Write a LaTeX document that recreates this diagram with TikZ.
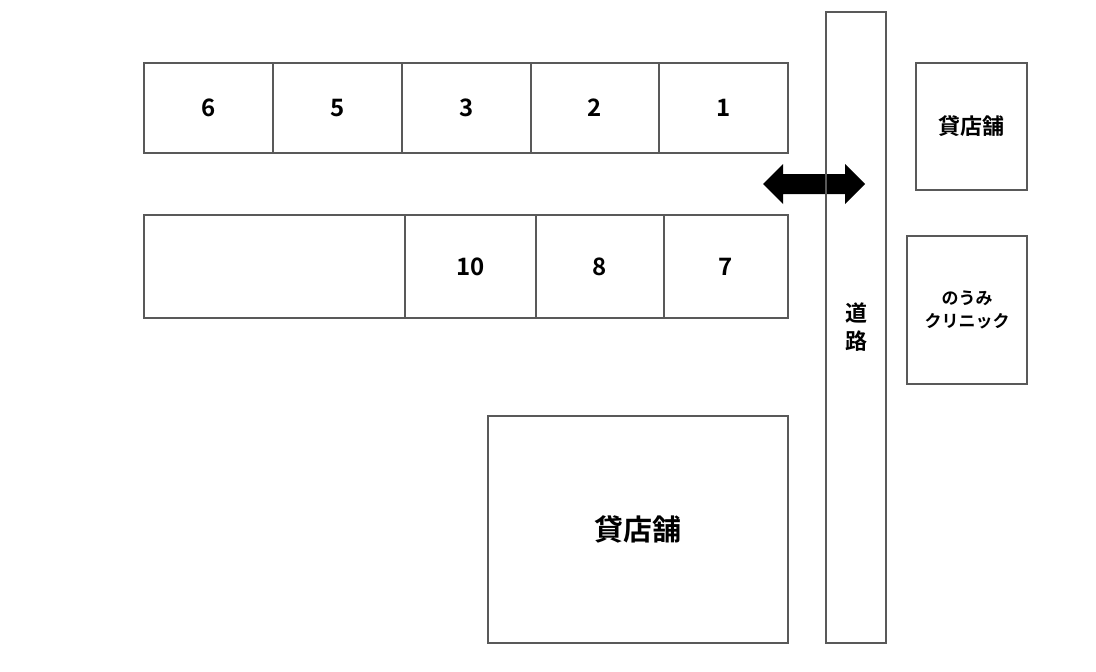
\documentclass[tikz,border=0pt]{standalone}
\usepackage{fontspec}
\setmainfont{Noto Sans CJK JP}[BoldFont={Noto Sans CJK JP Bold}]
\tikzset{
  lot/.style={draw=black!65, line width=0.75pt},
  lbl/.style={font=\bfseries\fontsize{12}{14}\selectfont, inner sep=0pt},
}
\begin{document}
\begin{tikzpicture}[x=0.5pt,y=-0.5pt]
  \useasboundingbox (0,0) rectangle (1096,671);
  % upper row
  \foreach \xa/\xb/\num in {144/273/6, 273/402/5, 402/531/3, 531/659/2, 659/788/1} {
    \draw[lot] (\xa,63) rectangle (\xb,153);
    \node[lbl] (lot\num) at ({(\xa+\xb)/2},108) {\num};
  }
  % lower row
  \draw[lot] (144,215) rectangle (405,318);
  \foreach \xa/\xb/\num in {405/536/10, 536/664/8, 664/788/7} {
    \draw[lot] (\xa,215) rectangle (\xb,318);
    \node[lbl] (lot\num) at ({(\xa+\xb)/2},266.5) {\num};
  }
  % entrance
  \fill[black] (763,184) -- (783,164) -- (783,174) -- (845,174) -- (845,164)
    -- (865,184) -- (845,204) -- (845,194) -- (783,194) -- (783,204) -- cycle;
  % road
  \draw[lot] (826,12) rectangle (886,643);
  \node[lbl, font=\bfseries\fontsize{11}{14}\selectfont, align=center] (road) at (856,327) {道\\路};
  % shops
  \draw[lot] (488,416) rectangle (788,643);
  \node[lbl, font=\bfseries\fontsize{14.5}{16}\selectfont] (shopa) at (638,529.5) {貸店舗};
  \draw[lot] (916,63) rectangle (1027,190);
  \node[lbl, font=\bfseries\fontsize{11}{13}\selectfont] (shopb) at (971.5,126.5) {貸店舗};
  \draw[lot] (907,236) rectangle (1027,384);
  \node[lbl, font=\bfseries\fontsize{8.5}{11.5}\selectfont, align=center] (clinic) at (967,310) {のうみ\\クリニック};
\end{tikzpicture}
\end{document}
